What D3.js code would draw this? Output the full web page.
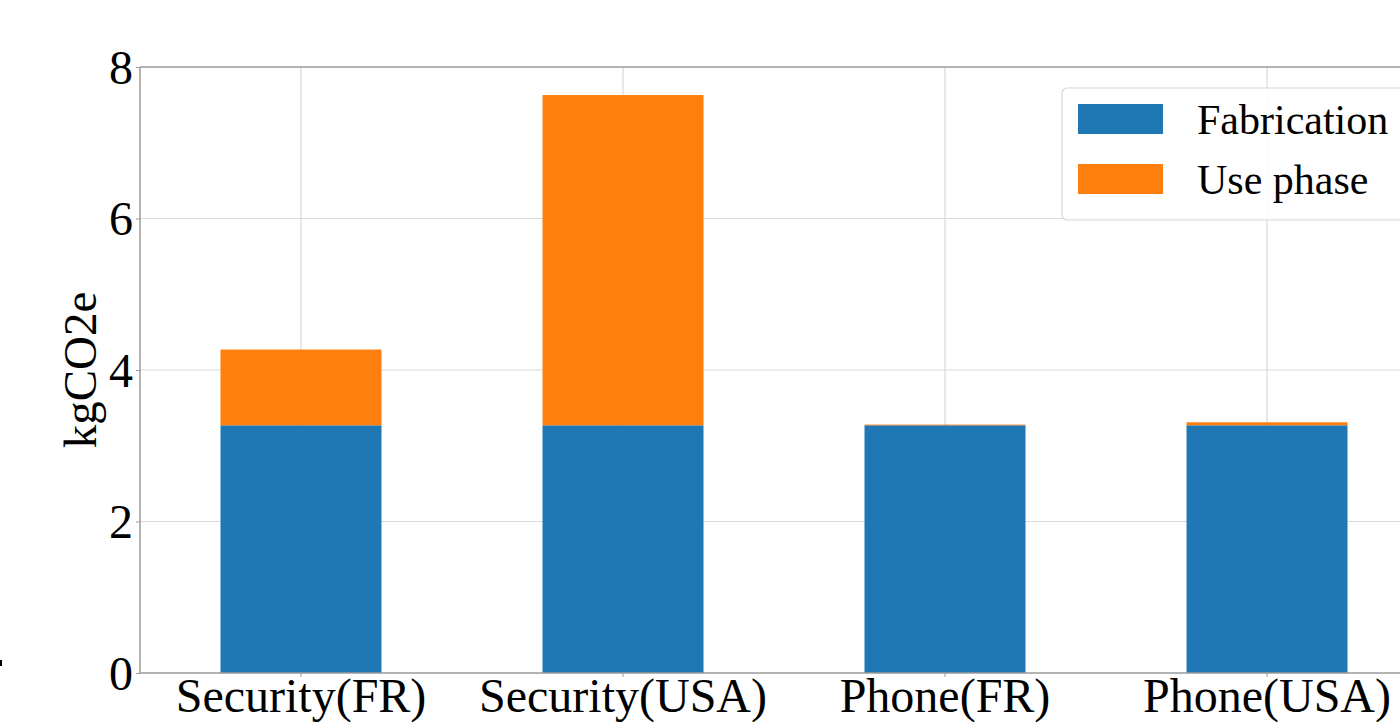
<!DOCTYPE html>
<html>
<head>
<meta charset="utf-8">
<script src="https://cdn.jsdelivr.net/npm/d3@7"></script>
<style>
  html, body { margin: 0; padding: 0; background: #fff; overflow: hidden; }
  svg { display: block; font-family: "Liberation Serif", "DejaVu Serif", serif; }
</style>
</head>
<body>
<svg id="chart" width="1400" height="722"></svg>
<script>
// Emissions per device scenario (kgCO2e)
const categories = ["Security(FR)", "Security(USA)", "Phone(FR)", "Phone(USA)"];
const fabrication = [3.27, 3.27, 3.27, 3.27];
const usePhase = [1.0, 4.36, 0.01, 0.04];
const seriesNames = ["Fabrication", "Use phase"];
const seriesColors = ["#1f77b4", "#ff7f0e"];
const yTicks = [0, 2, 4, 6, 8];

const svg = d3.select("#chart");
const margin = { left: 140, top: 67, bottom: 49 };
const height = 722;
const plotLeft = margin.left, plotTop = margin.top, plotBottom = height - margin.bottom;
const step = 322;
const plotRight = plotLeft + step * categories.length;

const x = d3.scaleBand().domain(categories).range([plotLeft, plotRight]).paddingInner(0.5).paddingOuter(0.25);
const y = d3.scaleLinear().domain([0, 8]).range([plotBottom, plotTop]);

const rows = categories.map((c, i) => ({ cat: c, Fabrication: fabrication[i], "Use phase": usePhase[i] }));
const stacked = d3.stack().keys(seriesNames)(rows);

// grid
const grid = svg.append("g").attr("stroke", "#d9d9d9").attr("stroke-width", 1.2);
yTicks.slice(1, -1).forEach(t => {
  grid.append("line").attr("x1", plotLeft).attr("x2", plotRight).attr("y1", y(t)).attr("y2", y(t));
});
categories.forEach(c => {
  const cx = x(c) + x.bandwidth() / 2;
  grid.append("line").attr("x1", cx).attr("x2", cx).attr("y1", plotTop).attr("y2", plotBottom);
});

// bars
stacked.forEach((layer, li) => {
  svg.append("g").attr("fill", seriesColors[li])
    .selectAll("rect").data(layer).join("rect")
    .attr("x", d => x(d.data.cat))
    .attr("width", x.bandwidth())
    .attr("y", d => y(d[1]))
    .attr("height", d => y(d[0]) - y(d[1]));
});

// spines
const spine = svg.append("g").attr("stroke", "#9a9a9a").attr("stroke-width", 1.5).attr("fill", "none");
spine.append("line").attr("x1", plotLeft).attr("x2", plotLeft).attr("y1", plotTop).attr("y2", plotBottom);
spine.append("line").attr("x1", plotLeft).attr("x2", plotRight).attr("y1", plotBottom).attr("y2", plotBottom);
spine.append("line").attr("x1", plotLeft).attr("x2", plotRight).attr("y1", plotTop).attr("y2", plotTop);

// y axis
const yAxis = svg.append("g").attr("transform", `translate(${plotLeft},0)`)
  .call(d3.axisLeft(y).tickValues(yTicks).tickSize(4).tickPadding(3).tickFormat(d3.format("d")));
yAxis.select(".domain").remove();
yAxis.selectAll(".tick line").attr("stroke", "#9a9a9a");
yAxis.selectAll(".tick text").attr("font-size", 48).attr("fill", "#000")
  .attr("font-family", "Liberation Serif, serif").attr("dy", "0.34em");

// x axis
const xAxis = svg.append("g").attr("transform", `translate(0,${plotBottom})`)
  .call(d3.axisBottom(x).tickSize(4).tickPadding(1));
xAxis.select(".domain").remove();
xAxis.selectAll(".tick line").attr("stroke", "#9a9a9a");
xAxis.selectAll(".tick text").attr("font-size", 48).attr("fill", "#000")
  .attr("font-family", "Liberation Serif, serif").attr("dy", "0.7em");

// y label
svg.append("text")
  .attr("transform", `translate(96,${(plotTop + plotBottom) / 2}) rotate(-90)`)
  .attr("text-anchor", "middle")
  .attr("font-size", 47)
  .text("kgCO2e");

// legend
const legend = svg.append("g").attr("transform", "translate(1062,88)");
legend.append("rect").attr("x", 0).attr("y", 0).attr("width", 400).attr("height", 132)
  .attr("rx", 5).attr("fill", "#fff").attr("fill-opacity", 0.85).attr("stroke", "#d6d6d6").attr("stroke-width", 1.2);
seriesNames.forEach((name, i) => {
  const g = legend.append("g").attr("transform", `translate(16,${16 + i * 60})`);
  g.append("rect").attr("width", 85).attr("height", 30).attr("fill", seriesColors[i]);
  g.append("text").attr("x", 119).attr("y", 15).attr("dy", "0.35em")
    .attr("font-size", 42).text(name);
});

// small mark at the left edge
svg.append("rect").attr("x", 0).attr("y", 660).attr("width", 2).attr("height", 6).attr("fill", "#000");
</script>
</body>
</html>
